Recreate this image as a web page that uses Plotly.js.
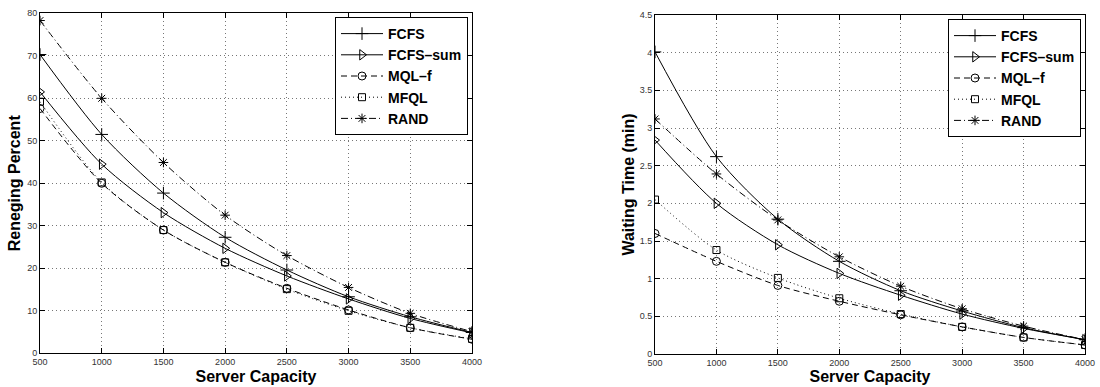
<!DOCTYPE html>
<html>
<head>
<meta charset="utf-8">
<script src="https://cdn.plot.ly/plotly-3.0.1.min.js"></script>
<style>html,body{margin:0;padding:0;background:#fff;}#chart{width:1100px;height:387px;}</style>
</head>
<body>
<div id="chart"></div>
<script>
// Shared x values
const capacity = [500, 1000, 1500, 2000, 2500, 3000, 3500, 4000];
const seriesNames = ["FCFS", "FCFS\u2013sum", "MQL\u2013f", "MFQL", "RAND"];

// Left: Reneging Percent
const reneg_FCFS    = [70.3, 51.5, 37.7, 27.3, 19.6, 13.3, 8.6, 4.9];
const reneg_FCFSsum = [61.5, 44.5, 33.1, 24.7, 18.2, 12.8, 8.2, 4.8];
const reneg_MQLf    = [57.6, 40.0, 29.0, 21.4, 15.3, 10.2, 6.0, 3.3];
const reneg_MFQL    = [59.2, 40.2, 29.0, 21.4, 15.1, 10.0, 6.0, 3.4];
const reneg_RAND    = [78.3, 60.0, 44.9, 32.5, 23.0, 15.5, 9.4, 5.1];

// Right: Waiting Time (min)
const wait_FCFS    = [4.01, 2.62, 1.79, 1.23, 0.84, 0.57, 0.35, 0.19];
const wait_FCFSsum = [2.84, 2.00, 1.45, 1.07, 0.78, 0.53, 0.34, 0.19];
const wait_MQLf    = [1.60, 1.23, 0.91, 0.70, 0.52, 0.36, 0.22, 0.12];
const wait_MFQL    = [2.05, 1.38, 1.01, 0.74, 0.53, 0.36, 0.22, 0.12];
const wait_RAND    = [3.12, 2.39, 1.78, 1.29, 0.90, 0.60, 0.37, 0.19];

const styles = [
  {symbol: "cross-thin-open", dash: "solid", size: 9},
  {symbol: "triangle-right-open", dash: "solid", size: 9},
  {symbol: "circle-open", dash: "6px,4px", size: 8},
  {symbol: "square-open", dash: "1px,3px", size: 7},
  {symbol: "asterisk-open", dash: "7px,3px,1px,3px", size: 8}
];

function mk(ys, i, xa, ya, lg) {
  return {
    x: capacity, y: ys, name: seriesNames[i], type: "scatter", mode: "lines+markers",
    xaxis: xa, yaxis: ya, legend: lg,
    line: {color: "#000", width: 1, dash: styles[i].dash, shape: "spline", smoothing: 0.8},
    marker: {symbol: styles[i].symbol, size: styles[i].size, color: "#000", line: {color: "#000", width: 1}}
  };
}

const left = [reneg_FCFS, reneg_FCFSsum, reneg_MQLf, reneg_MFQL, reneg_RAND];
const right = [wait_FCFS, wait_FCFSsum, wait_MQLf, wait_MFQL, wait_RAND];
const data = [];
left.forEach((ys, i) => data.push(mk(ys, i, "x", "y", "legend")));
right.forEach((ys, i) => data.push(mk(ys, i, "x2", "y2", "legend2")));

const tickFont = {family: "Arial, Liberation Sans, sans-serif", size: 9, color: "#333"};
const titleFont = {family: "Arial, Liberation Sans, sans-serif", size: 16, color: "#000", weight: "bold"};
const axisCommon = {
  showline: true, linecolor: "#000", linewidth: 1, mirror: "ticks",
  ticks: "inside", ticklen: 5, tickcolor: "#000", tickwidth: 1,
  showgrid: true, gridcolor: "#777", gridwidth: 1, griddash: "1px,3px",
  zeroline: false, tickfont: tickFont, fixedrange: true
};
const W = 1100, H = 387;
const legendFont = {family: "Arial, Liberation Sans, sans-serif", size: 14, color: "#000", weight: "bold"};

const layout = {
  width: W, height: H, margin: {l: 0, r: 0, t: 0, b: 0},
  paper_bgcolor: "#fff", plot_bgcolor: "#fff", showlegend: true,
  xaxis: Object.assign({}, axisCommon, {
    domain: [40 / W, 472 / W], range: [500, 4000], dtick: 500, anchor: "y",
    title: {text: "Server Capacity", font: titleFont, standoff: 4}
  }),
  yaxis: Object.assign({}, axisCommon, {
    domain: [(H - 353.3) / H, (H - 13.3) / H], range: [0, 80], dtick: 10, anchor: "x",
    title: {text: "Reneging Percent", font: titleFont, standoff: 2}
  }),
  xaxis2: Object.assign({}, axisCommon, {
    domain: [655 / W, 1085 / W], range: [500, 4000], dtick: 500, anchor: "y2",
    title: {text: "Server Capacity", font: titleFont, standoff: 4}
  }),
  yaxis2: Object.assign({}, axisCommon, {
    domain: [(H - 354) / H, (H - 15) / H], range: [0, 4.5], dtick: 0.5, anchor: "x2",
    title: {text: "Waiting Time (min)", font: titleFont, standoff: 1}
  }),
  legend: {
    x: 468 / W, y: 1 - 17 / H, xanchor: "right", yanchor: "top", itemwidth: 42,
    bgcolor: "#fff", bordercolor: "#000", borderwidth: 1, font: legendFont, tracegroupgap: 0
  },
  legend2: {
    x: 1081 / W, y: 1 - 19 / H, xanchor: "right", yanchor: "top", itemwidth: 42,
    bgcolor: "#fff", bordercolor: "#000", borderwidth: 1, font: legendFont, tracegroupgap: 0
  }
};

Plotly.newPlot("chart", data, layout, {staticPlot: true, displayModeBar: false});
</script>
</body>
</html>
